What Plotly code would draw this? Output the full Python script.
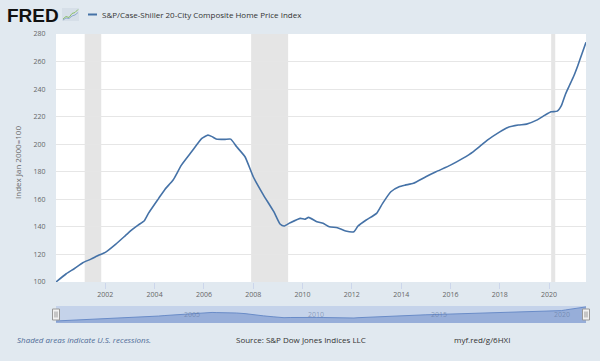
import plotly.graph_objects as go

# ---------------- data ----------------
dates = [
    "2000-01-01", "2000-06-01", "2000-10-01", "2001-02-01", "2001-06-01", "2001-10-01",
    "2002-01-01", "2002-06-01", "2002-11-01", "2003-02-01", "2003-05-01", "2003-08-01",
    "2003-10-01", "2004-03-01", "2004-06-01", "2004-10-01", "2005-02-01", "2005-07-01",
    "2005-12-01", "2006-03-01", "2006-05-01", "2006-07-01", "2006-11-01", "2007-02-01",
    "2007-05-01", "2007-09-01", "2008-01-01", "2008-06-01", "2008-11-01", "2009-02-01",
    "2009-04-01", "2009-07-01", "2009-12-01", "2010-02-01", "2010-04-01", "2010-08-01",
    "2010-11-01", "2011-02-01", "2011-06-01", "2011-10-01", "2012-02-01", "2012-04-01",
    "2012-08-01", "2013-01-01", "2013-04-01", "2013-08-01", "2013-12-01", "2014-03-01",
    "2014-07-01", "2015-01-01", "2015-06-01", "2016-01-01", "2016-07-01", "2016-12-01",
    "2017-04-01", "2017-07-01", "2018-01-01", "2018-05-01", "2018-10-01", "2019-02-01",
    "2019-07-01", "2019-11-01", "2020-02-01", "2020-05-01", "2020-07-01", "2020-09-01",
    "2020-11-01", "2021-01-01", "2021-03-01", "2021-05-01", "2021-07-01",
]
values = [
    100.0, 106.0, 109.8, 114.0, 116.6, 119.6,
    121.5, 127.3, 134.0, 138.0, 141.3, 144.5,
    149.8, 160.7, 167.2, 174.0, 184.8, 194.5,
    204.2, 206.6, 205.5, 203.8, 203.5, 203.7,
    198.1, 190.9, 176.4, 163.1, 151.0, 142.1,
    140.6, 143.0, 146.2, 145.5, 146.9, 143.7,
    142.6, 140.1, 139.4, 137.0, 136.5, 140.6,
    145.0, 149.8, 157.1, 165.5, 169.1, 170.3,
    171.6, 176.4, 180.0, 184.8, 189.7, 194.5,
    199.3, 203.0, 209.0, 212.2, 213.9, 214.6,
    217.5, 221.1, 223.5, 224.0, 228.0, 236.5,
    243.0, 249.5, 257.0, 265.5, 274.0,
]
recession_starts = ["2001-03-01", "2007-12-01", "2020-02-01"]
recession_ends = ["2001-11-01", "2009-06-01", "2020-04-01"]
x_tick_vals = ["2002-01-01", "2004-01-01", "2006-01-01", "2008-01-01", "2010-01-01",
               "2012-01-01", "2014-01-01", "2016-01-01", "2018-01-01", "2020-01-01"]
x_tick_text = ["2002", "2004", "2006", "2008", "2010", "2012", "2014", "2016", "2018", "2020"]
y_tick_vals = [100, 120, 140, 160, 180, 200, 220, 240, 260, 280]
nav_tick_vals = ["2005-01-01", "2010-01-01", "2015-01-01", "2020-01-01"]
nav_tick_text = ["2005", "2010", "2015", "2020"]
x_range = ["2000-01-01", "2021-07-01"]

series_name = "S&P/Case-Shiller 20-City Composite Home Price Index"
y_title = "Index Jan 2000=100"

# ---------------- layout geometry ----------------
W, H = 600, 361
L, R, T, B = 56, 14, 34, 38
PW, PH = W - L - R, H - T - B
FONT = "Open Sans"


def px(x):
    return (x - L) / PW


def py(y):
    return (H - B - y) / PH


main_bottom = 282
nav_top, nav_bottom = 306, 323

fig = go.Figure()
fig.add_trace(go.Scatter(
    x=dates, y=values, mode="lines", name=series_name,
    line=dict(color="#4572a7", width=1.6, shape="spline", smoothing=0.5),
    xaxis="x", yaxis="y", hoverinfo="skip",
))
fig.add_trace(go.Scatter(
    x=dates, y=values, mode="lines", fill="tozeroy",
    fillcolor="rgba(120,150,205,0.6)",
    line=dict(color="#6a8cc8", width=1),
    xaxis="x2", yaxis="y2", hoverinfo="skip",
))

shapes = []
for s, e in zip(recession_starts, recession_ends):
    shapes.append(dict(type="rect", xref="x", yref="y domain", x0=s, x1=e, y0=0, y1=1,
                       fillcolor="#e5e5e5", line=dict(width=0), layer="below"))
# navigator background
shapes.append(dict(type="rect", xref="x2 domain", yref="y2 domain", x0=0, x1=1, y0=0, y1=1,
                   fillcolor="#c5d3ea", line=dict(width=0), layer="below"))
# navigator handles
for hx in (56, 586):
    shapes.append(dict(type="rect", xref="paper", yref="paper",
                       x0=px(hx - 3.5), x1=px(hx + 3.5), y0=py(320), y1=py(309),
                       fillcolor="#f2f2f2", line=dict(color="#999999", width=1), layer="above"))
    for dx in (-1, 1):
        shapes.append(dict(type="line", xref="paper", yref="paper",
                           x0=px(hx + dx), x1=px(hx + dx), y0=py(317.5), y1=py(311.5),
                           line=dict(color="#999999", width=1), layer="above"))
# legend dash
shapes.append(dict(type="line", xref="paper", yref="paper", x0=px(88), x1=px(97),
                   y0=py(14.5), y1=py(14.5), line=dict(color="#4572a7", width=2)))
# small FRED icon
icon_x = [63, 66, 69, 72, 75, 78]
icon_y_g = [19, 16.5, 17.5, 13.5, 12.5, 9.5]
icon_y_b = [20, 18, 18.5, 16, 15, 12.5]
path_g = "M " + " L ".join(f"{px(a):.5f},{py(b):.5f}" for a, b in zip(icon_x, icon_y_g))
path_b = "M " + " L ".join(f"{px(a):.5f},{py(b):.5f}" for a, b in zip(icon_x, icon_y_b))
shapes.append(dict(type="rect", xref="paper", yref="paper", x0=px(62), x1=px(79),
                   y0=py(21), y1=py(8), fillcolor="#d6dfe8", line=dict(width=0)))
shapes.append(dict(type="path", xref="paper", yref="paper", path=path_b,
                   line=dict(color="#8fa9cf", width=1)))
shapes.append(dict(type="path", xref="paper", yref="paper", path=path_g,
                   line=dict(color="#8cbf6b", width=1)))

annotations = [
    dict(text="<b>FRED</b>", xref="paper", yref="paper", x=px(5), y=py(15),
         xanchor="left", yanchor="middle", showarrow=False,
         font=dict(family="Liberation Sans", size=19, color="#111111")),
    dict(text=series_name, xref="paper", yref="paper", x=px(100), y=py(14.5),
         xanchor="left", yanchor="middle", showarrow=False,
         font=dict(family=FONT, size=8, color="#333333")),
    dict(text=y_title, xref="paper", yref="paper", x=px(17), y=py(163),
         xanchor="center", yanchor="middle", textangle=-90, showarrow=False,
         font=dict(family=FONT, size=8, color="#666666")),
    dict(text="<i>Shaded areas indicate U.S. recessions.</i>", xref="paper", yref="paper",
         x=px(15), y=py(339), xanchor="left", yanchor="middle", showarrow=False,
         font=dict(family=FONT, size=8, color="#4d6a96")),
    dict(text="Source: S&P Dow Jones Indices LLC", xref="paper", yref="paper",
         x=px(234), y=py(339), xanchor="left", yanchor="middle", showarrow=False,
         font=dict(family=FONT, size=8, color="#333333")),
    dict(text="myf.red/g/6HXI", xref="paper", yref="paper",
         x=px(452), y=py(339), xanchor="left", yanchor="middle", showarrow=False,
         font=dict(family=FONT, size=8, color="#333333")),
]
for tv, tt in zip(nav_tick_vals, nav_tick_text):
    annotations.append(dict(text=tt, xref="x2", yref="y2 domain", x=tv, y=0.5,
                            xanchor="left", yanchor="middle", xshift=3, showarrow=False,
                            font=dict(family=FONT, size=7, color="rgba(90,110,150,0.55)")))

fig.update_layout(
    width=W, height=H,
    margin=dict(l=L, r=R, t=T, b=B, pad=0),
    paper_bgcolor="#e1e9f0", plot_bgcolor="#ffffff",
    showlegend=False,
    font=dict(family=FONT, size=7, color="#666666"),
    xaxis=dict(type="date", range=x_range, domain=[0, 1], anchor="y",
               tickmode="array", tickvals=x_tick_vals, ticktext=x_tick_text,
               ticks="outside", ticklen=6, tickcolor="#ccd6eb", tickwidth=1,
               tickfont=dict(family=FONT, size=7, color="#666666"),
               showgrid=False, zeroline=False, showline=False, fixedrange=True),
    yaxis=dict(domain=[py(main_bottom), 1], range=[100, 280], anchor="x",
               tickmode="array", tickvals=y_tick_vals,
               ticks="outside", ticklen=8, tickcolor="rgba(0,0,0,0)",
               tickfont=dict(family=FONT, size=7, color="#666666"),
               showgrid=True, gridcolor="#e6e6e6", gridwidth=1,
               zeroline=False, showline=False, fixedrange=True),
    xaxis2=dict(type="date", range=x_range, domain=[0, 1], anchor="y2",
                showticklabels=False, showgrid=False, zeroline=False, ticks="",
                fixedrange=True),
    yaxis2=dict(domain=[0, py(nav_top)], range=[75, 285], anchor="x2",
                visible=False, fixedrange=True),
    shapes=shapes,
    annotations=annotations,
)

fig.write_html(
    "out.html",
    config={"displayModeBar": False},
    post_script="document.body.style.margin='0';document.body.style.padding='0';",
)
